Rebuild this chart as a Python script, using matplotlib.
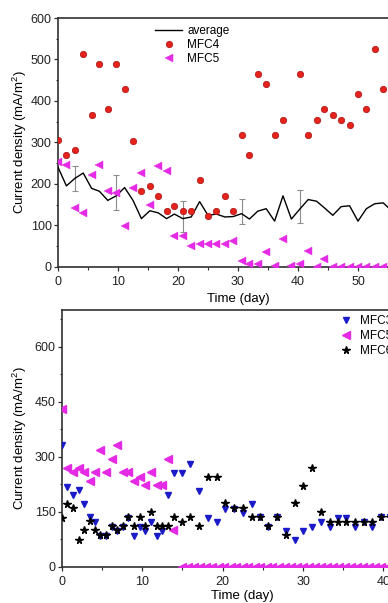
import matplotlib
matplotlib.use('Agg')
import matplotlib.pyplot as plt
from matplotlib.ticker import MultipleLocator

plt.rcParams['font.family'] = ['Liberation Sans', 'DejaVu Sans']
plt.rcParams['mathtext.default'] = 'regular'
plt.rcParams['font.size'] = 9

# ---- top panel data (day, current density) ----
days_top = [0.0, 1.4, 2.8, 4.2, 5.6, 6.9, 8.3, 9.7, 11.1, 12.5, 13.9, 15.3, 16.7, 18.1,
            19.4, 20.8, 22.2, 23.6, 25.0, 26.4, 27.8, 29.2, 30.6, 31.9, 33.3, 34.7,
            36.1, 37.5, 38.9, 40.3, 41.7, 43.1, 44.4, 45.8, 47.2, 48.6, 50.0, 51.4,
            52.8, 54.2, 55.6]
average = [240, 195, 213, 226, 189, 182, 160, 171, 191, 160, 116, 135, 130, 116,
           127, 116, 120, 157, 124, 127, 120, 121, 128, 115, 134, 140,
           110, 171, 115, 139, 162, 158, 142, 124, 145, 147, 110, 140,
           152, 154, 135]
mfc5_top = [252, 245, 141, 129, 221, 245, 183, 179, 99, 191, 225, 150, 243, 230,
            73, 73, 49, 54, 54, 54, 54, 62, 13, 7, 7, 36,
            2, 67, 2, 6, 38, 0, 19, 0, 0, 0, 0, 0,
            0, 0, 0]
days_mfc4 = [0.0, 1.4, 2.8, 4.2, 5.6, 6.9, 8.3, 9.7, 11.1, 12.5, 13.9, 15.3, 16.7, 18.1,
             19.4, 20.8, 22.2, 23.6, 25.0, 26.4, 27.8, 29.2, 30.6, 31.9, 33.3, 34.7,
             36.1, 37.5, 40.3, 41.7, 43.1, 44.4, 45.8, 47.2, 48.6, 50.0, 51.4,
             52.8, 54.2, 55.6]
mfc4 = [305, 269, 282, 514, 367, 490, 380, 490, 428, 304, 183, 195, 171, 135,
        146, 135, 135, 208, 123, 135, 171, 135, 318, 269, 465, 440,
        318, 355, 465, 318, 355, 380, 367, 355, 342, 416, 380,
        526, 428, 318]
err_days = [2.8, 9.7, 20.8, 30.6, 40.3]
err_mean = [212, 179, 121, 133, 145]
err_size = [30, 42, 37, 30, 40]

# ---- bottom panel data ----
days_bot = [0.0, 0.7, 1.4, 2.1, 2.8, 3.5, 4.1, 4.8, 5.5, 6.2, 6.9, 7.6, 8.3, 9.0,
            9.7, 10.4, 11.1, 11.8, 12.5, 13.2, 13.9, 15.0, 16.0, 17.1, 18.2, 19.3,
            20.3, 21.4, 22.5, 23.6, 24.6, 25.7, 26.8, 27.9, 29.0, 30.0, 31.1, 32.2,
            33.3, 34.4, 35.4, 36.5, 37.6, 38.6, 39.7, 40.8]
mfc3 = [332, 218, 195, 208, 170, 136, 122, 84, 84, 109, 96, 109, 134, 84,
        109, 96, 122, 84, 96, 195, 256, 256, 280, 207, 134, 121,
        157, 158, 147, 170, 135, 108, 135, 98, 73, 97, 109, 123,
        109, 134, 134, 109, 123, 109, 135, 135]
mfc6 = [134, 172, 160, 74, 99, 124, 99, 87, 87, 111, 99, 111, 136, 111,
        136, 111, 148, 111, 111, 111, 135, 123, 135, 110, 245, 245,
        173, 160, 160, 135, 135, 110, 135, 86, 173, 221, 270, 148,
        123, 123, 123, 123, 123, 123, 135, 135]
days_mfc5 = [0.0, 0.7, 1.4, 2.1, 2.8, 3.5, 4.1, 4.8, 5.5, 6.2, 6.9, 7.6, 8.3, 9.0,
             9.7, 10.4, 11.1, 11.8, 12.5, 13.2, 13.8,
             15.0, 15.7, 16.5, 17.2, 18.0, 18.7, 19.5, 20.2, 21.0, 21.7, 22.5, 23.2,
             24.0, 24.7, 25.5, 26.2, 27.0, 27.7, 28.5, 29.2, 30.0, 30.7, 31.5, 32.2,
             33.0, 33.7, 34.5, 35.2, 36.0, 36.7, 37.5, 38.2, 39.0, 39.7, 40.5, 41.2]
mfc5_bot = [429, 268, 257, 268, 257, 234, 257, 318, 257, 294, 331, 257, 257, 234,
            245, 222, 257, 222, 222, 294, 100,
            0, 0, 0, 0, 0, 0, 0, 0, 0, 0, 0, 0,
            0, 0, 0, 0, 0, 0, 0, 0, 0, 0, 0, 0,
            0, 0, 0, 0, 0, 0, 0, 0, 0, 0, 0, 0]

red = '#e5221c'
magenta = '#e42ae4'
blue = '#1a1ac8'
ylab = 'Current density (mA/m$^2$)'

fig = plt.figure(figsize=(3.88, 6.03), dpi=100)
# axes run past the right edge on purpose (reference is cropped)
ax1 = fig.add_axes([0.1495, 0.5577, 0.9278, 0.4124])
ax2 = fig.add_axes([0.159, 0.0602, 0.933, 0.4257])

# top
ax1.plot(days_top, average, color='k', lw=1.0, label='average', zorder=3)
ax1.errorbar(err_days, err_mean, yerr=err_size, fmt='none', ecolor='#8c8c8c',
             elinewidth=0.8, capsize=2.5, capthick=0.8, zorder=2)
ax1.plot(days_mfc4, mfc4, 'o', ms=4.6, mfc=red, mec='#a81010', mew=0.5,
         label='MFC4', zorder=4)
ax1.plot(days_top, mfc5_top, '<', ms=5.3, mfc=magenta, mec=magenta, mew=0.3,
         label='MFC5', zorder=4)
ax1.set_xlim(0, 60)
ax1.set_ylim(0, 600)
ax1.xaxis.set_major_locator(MultipleLocator(10))
ax1.xaxis.set_minor_locator(MultipleLocator(5))
ax1.yaxis.set_major_locator(MultipleLocator(100))
ax1.yaxis.set_minor_locator(MultipleLocator(50))
ax1.set_xlabel('Time (day)', fontsize=9.5, labelpad=4)
ax1.set_ylabel(ylab, fontsize=9.5, labelpad=1)
ax1.legend(loc='upper left', bbox_to_anchor=(0.27, 0.973), frameon=False,
           fontsize=8.5, handlelength=2.3, handletextpad=0.4, labelspacing=0.2,
           borderpad=0, borderaxespad=0, numpoints=1)

# bottom
ax2.plot(days_bot, mfc3, 'v', ms=5, mfc=blue, mec=blue, label='MFC3', zorder=3)
ax2.plot(days_mfc5, mfc5_bot, '<', ms=5.3, mfc=magenta, mec=magenta, label='MFC5', zorder=3)
ax2.plot(days_bot, mfc6, '*', ms=5.5, mfc='k', mec='k', label='MFC6', zorder=4)
ax2.set_xlim(0, 45)
ax2.set_ylim(0, 700)
ax2.xaxis.set_major_locator(MultipleLocator(10))
ax2.xaxis.set_minor_locator(MultipleLocator(5))
ax2.yaxis.set_major_locator(MultipleLocator(150))
ax2.yaxis.set_minor_locator(MultipleLocator(75))
ax2.set_xlabel('Time (day)', fontsize=9.5, labelpad=1.5)
ax2.set_ylabel(ylab, fontsize=9.5)
ax2.legend(loc='upper left', bbox_to_anchor=(0.765, 0.98), frameon=False,
           fontsize=8.5, handlelength=1.2, handletextpad=0.6, labelspacing=0.25,
           borderpad=0, borderaxespad=0, numpoints=1)

for ax in (ax1, ax2):
    for s in ax.spines.values():
        s.set_color('#303030')
        s.set_linewidth(1.2)
    ax.tick_params(which='major', direction='out', length=3, width=0.9,
                   colors='#303030', labelcolor='#222222', labelsize=9,
                   top=False, right=False, pad=1.5)
    ax.tick_params(which='minor', direction='out', length=1.8, width=0.8,
                   colors='#303030', top=False, right=False)
    ax.tick_params(axis='x', which='major', pad=3.5)

fig.savefig('out.png', dpi=100)
